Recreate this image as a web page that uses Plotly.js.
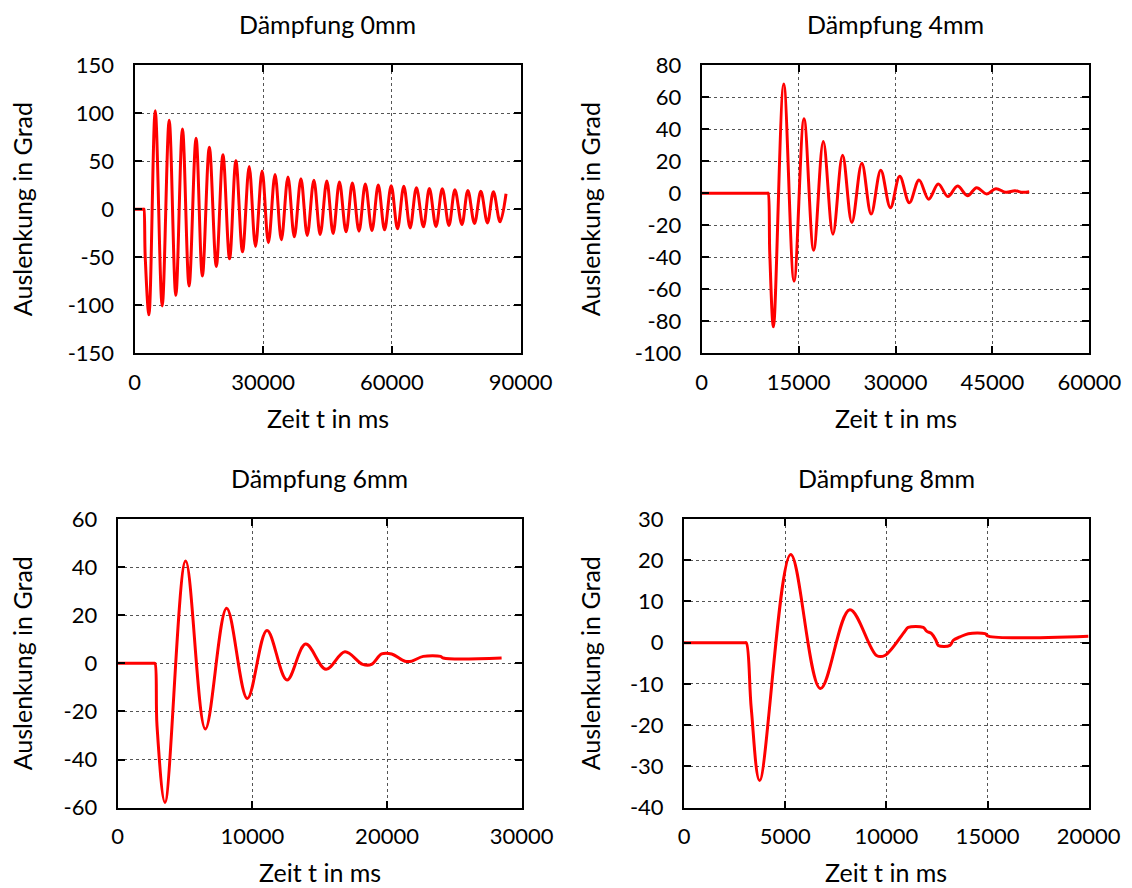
<!DOCTYPE html>
<html>
<head>
<meta charset="utf-8">
<script src="https://cdn.plot.ly/plotly-3.0.1.min.js"></script>
<style>
  html, body { margin: 0; padding: 0; background: #fff; }
  #chart { width: 1132px; height: 888px; }
</style>
</head>
<body>
<div id="chart"></div>
<script>
// ---------- data ----------
// Dämpfung 0mm
const t0 = [0, 2150, 2200, 2500, 3364, 4833, 6458, 8081, 9629, 11176, 12722, 14346, 15816, 17440, 19064, 20611, 22158,
  23627, 25174, 26721, 28190, 29737, 31206, 32754, 34223, 35770, 37239, 38786, 40255, 41802, 43271, 44819, 46288,
  47757, 49304, 50773, 52320, 53789, 55336, 56805, 58275, 59822, 61292, 62761, 64230, 65700, 67325, 68717, 70262,
  71733, 73279, 74671, 76295, 77687, 79234, 80703, 82251, 83643, 85190, 86582];
const a0 = [0, 0, 0, -50, -110, 102.5, -100.7, 92.5, -89.7, 83.5, -80, 73.8, -69.6, 64.5, -59.6, 56.5, -51.6,
  50.3, -44.4, 44.4, -38.8, 39.6, -35, 36.1, -31.9, 33.4, -28.8, 31.6, -27.4, 30.2, -26.4, 29.2, -25.3,
  28.2, -23.6, 27.1, -22.9, 26.1, -22.2, 25.1, -21.5, 24.4, -20.5, 23.7, -19.5, 22.3, -18.4, 21.6, -18.1,
  21.3, -17, 20.2, -16, 19.5, -15, 18.5, -14.3, 18.1, -13.2, 16];

// Dämpfung 4mm
const t4 = [0, 10200, 10283, 10540, 11106, 12701, 14295, 15838, 17330, 18822, 20314, 21806, 23245, 24789, 26230, 27721,
  29213, 30653, 32145, 33637, 35128, 36620, 38113, 39603, 41147, 42560, 44100, 45540, 47080, 48500, 49634, 50700];
const a4 = [0, 0, 0, -38, -83.5, 68.2, -55, 46.4, -35.6, 32.2, -25.6, 23.7, -18.3, 18.7, -13.1, 14.3,
  -9.1, 10.5, -6, 8.2, -3.8, 5.7, -2.1, 4.4, -1.6, 3.4, -0.5, 2.8, 0.5, 1.5, 0.5, 0.8];

// Dämpfung 6mm
const t6 = [0, 2700, 2769, 2920, 3511, 5046, 6506, 8090, 9624, 11084, 12569, 13955, 15464, 16875, 18189, 18857,
  19599, 20342, 21329, 21826, 22688, 23979, 24172, 28508];
const a6 = [0, 0, 0, -26, -57.8, 42.5, -27.3, 22.9, -14.6, 13.7, -6.9, 8.0, -2.5, 4.8, -0.4, -0.4,
  3.9, 3.9, 0.9, 0.9, 2.9, 2.9, 2.2, 2.2];

// Dämpfung 8mm
const t8 = [0, 3000, 3078, 3325, 3738, 5272, 6741, 8193, 9513, 9926, 10916, 11081, 11823, 11988, 12236, 12450,
  12566, 13144, 13308, 13639, 14051, 14876, 15041, 19990];
const a8 = [0, 0, 0, -16, -33.4, 21.4, -11.1, 8.0, -3.1, -3.1, 2.8, 3.7, 3.7, 2.8, 2.2, 0.6,
  -0.65, -0.65, 0.6, 1.4, 2.2, 2.2, 1.6, 1.6];

// titles and tick values
const panelTitles = ["Dämpfung 0mm", "Dämpfung 4mm", "Dämpfung 6mm", "Dämpfung 8mm"];
const xTitle = "Zeit t in ms";
const yTitle = "Auslenkung in Grad";
const xTicks0 = [0, 30000, 60000, 90000];
const yTicks0 = [-150, -100, -50, 0, 50, 100, 150];
const xTicks4 = [0, 15000, 30000, 45000, 60000];
const yTicks4 = [-100, -80, -60, -40, -20, 0, 20, 40, 60, 80];
const xTicks6 = [0, 10000, 20000, 30000];
const yTicks6 = [-60, -40, -20, 0, 20, 40, 60];
const xTicks8 = [0, 5000, 10000, 15000, 20000];
const yTicks8 = [-40, -30, -20, -10, 0, 10, 20, 30];

// ---------- layout helpers ----------
const W = 1132, H = 888;
const FONT = "Lato, 'Open Sans', sans-serif";
const FS_TICK = 22;
const FS_TEXT = 25;
const px = v => v / W;
const py = v => 1 - v / H;

// panel boxes in pixels: [left, right, top, bottom]
const boxes = [
  [134.5, 520.7, 65, 353.3],
  [701.7, 1089.3, 65, 353.3],
  [117.7, 521.7, 519, 807.7],
  [684.0, 1088.7, 519, 807.7]
];

function axis(box, isX, ticks, range) {
  const dom = isX ? [px(box[0]), px(box[1])] : [py(box[3]), py(box[2])];
  return {
    domain: dom,
    range: range,
    tickmode: 'array',
    tickvals: ticks,
    ticktext: ticks.map(String),
    ticks: 'inside',
    ticklen: 7,
    tickwidth: 2,
    tickcolor: '#000',
    showline: true,
    linecolor: '#000',
    linewidth: 2,
    mirror: 'ticks',
    showgrid: true,
    gridcolor: '#555',
    gridwidth: 1,
    griddash: 'dot',
    zeroline: false,
    ticklabelstandoff: isX ? 8 : 14,
    tickfont: {family: FONT, size: FS_TICK, color: '#000'},
    fixedrange: true
  };
}

const series = [[t0, a0], [t4, a4], [t6, a6], [t8, a8]];
const traces = series.map((s, i) => ({
  x: s[0], y: s[1],
  xaxis: i === 0 ? 'x' : 'x' + (i + 1),
  yaxis: i === 0 ? 'y' : 'y' + (i + 1),
  type: 'scatter', mode: 'lines',
  line: {color: '#ff0000', width: 3, shape: 'spline', smoothing: 1},
  showlegend: false,
  hoverinfo: 'skip'
}));

const layout = {
  width: W, height: H,
  margin: {l: 0, r: 0, t: 0, b: 0},
  paper_bgcolor: '#fff',
  plot_bgcolor: '#fff',
  showlegend: false,
  font: {family: FONT, size: FS_TICK, color: '#000'},
  xaxis: Object.assign(axis(boxes[0], true, xTicks0, [0, 90000]), {anchor: 'y'}),
  yaxis: Object.assign(axis(boxes[0], false, yTicks0, [-150, 150]), {anchor: 'x'}),
  xaxis2: Object.assign(axis(boxes[1], true, xTicks4, [0, 60000]), {anchor: 'y2'}),
  yaxis2: Object.assign(axis(boxes[1], false, yTicks4, [-100, 80]), {anchor: 'x2'}),
  xaxis3: Object.assign(axis(boxes[2], true, xTicks6, [0, 30000]), {anchor: 'y3'}),
  yaxis3: Object.assign(axis(boxes[2], false, yTicks6, [-60, 60]), {anchor: 'x3'}),
  xaxis4: Object.assign(axis(boxes[3], true, xTicks8, [0, 20000]), {anchor: 'y4'}),
  yaxis4: Object.assign(axis(boxes[3], false, yTicks8, [-40, 30]), {anchor: 'x4'}),
  annotations: []
};

// panel titles, axis titles
const titleY = [24, 24, 478, 478];
const xTitleY = [418, 418, 872, 872];
const yTitleX = [22, 590, 22, 590];
boxes.forEach((b, i) => {
  const cx = (b[0] + b[1]) / 2;
  const cy = (b[2] + b[3]) / 2;
  layout.annotations.push({
    text: panelTitles[i], xref: 'paper', yref: 'paper',
    x: px(cx), y: py(titleY[i]), xanchor: 'center', yanchor: 'middle',
    showarrow: false, font: {family: FONT, size: FS_TEXT, color: '#000'}
  });
  layout.annotations.push({
    text: xTitle, xref: 'paper', yref: 'paper',
    x: px(cx), y: py(xTitleY[i]), xanchor: 'center', yanchor: 'middle',
    showarrow: false, font: {family: FONT, size: FS_TEXT, color: '#000'}
  });
  layout.annotations.push({
    text: yTitle, xref: 'paper', yref: 'paper', textangle: -90,
    x: px(yTitleX[i]), y: py(cy), xanchor: 'center', yanchor: 'middle',
    showarrow: false, font: {family: FONT, size: FS_TEXT, color: '#000'}
  });
});

Plotly.newPlot('chart', traces, layout, {displayModeBar: false, staticPlot: true});
</script>
</body>
</html>
